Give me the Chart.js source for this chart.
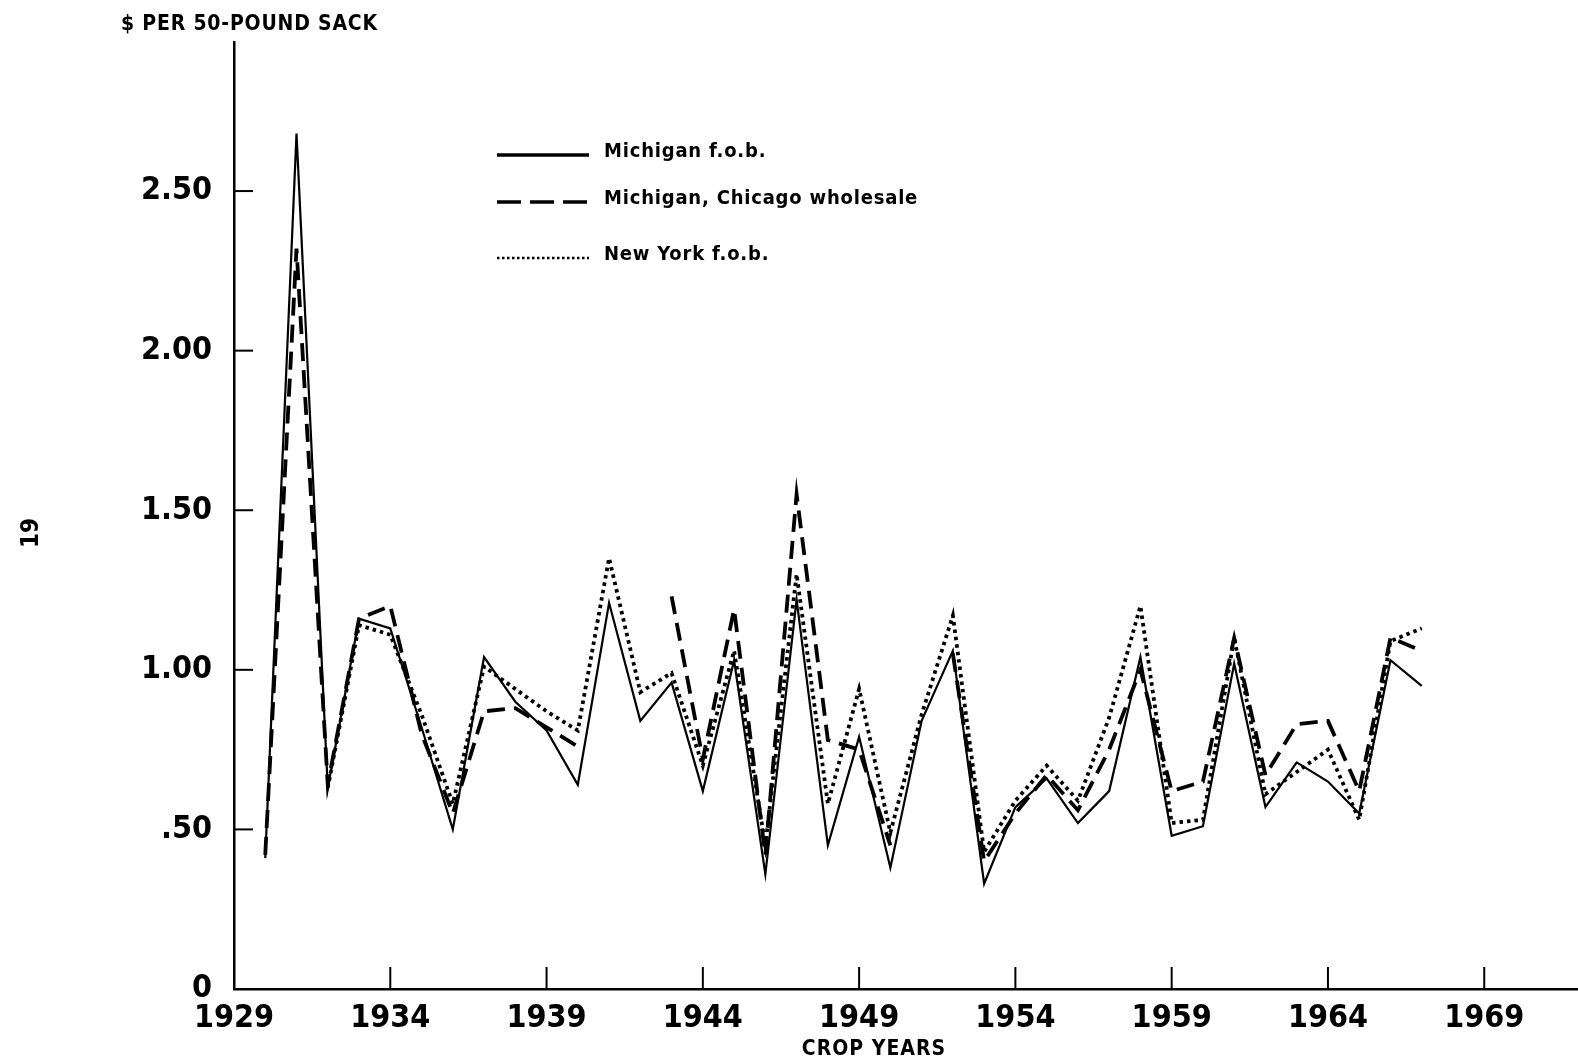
<!DOCTYPE html>
<html>
<head>
<meta charset="utf-8">
<script src="https://cdn.jsdelivr.net/npm/chart.js@4/dist/chart.umd.min.js"></script>
<style>
  html, body { margin: 0; padding: 0; background: #fff; }
  canvas { display: block; }
</style>
</head>
<body>
<canvas id="chart" width="1578" height="1062"></canvas>
<script>
const FONT = '"Liberation Sans Narrow", "DejaVu Sans Condensed", "Roboto", sans-serif';

// crop years 1930-1967
const years = [1930, 1931, 1932, 1933, 1934, 1935, 1936, 1937, 1938, 1939,
               1940, 1941, 1942, 1943, 1944, 1945, 1946, 1947, 1948, 1949,
               1950, 1951, 1952, 1953, 1954, 1955, 1956, 1957, 1958, 1959,
               1960, 1961, 1962, 1963, 1964, 1965, 1966, 1967];

// $ per 50-pound sack
const michiganFob = [0.41, 2.68, 0.63, 1.16, 1.13, 0.82, 0.50, 1.04, 0.90, 0.81,
                     0.64, 1.21, 0.84, 0.96, 0.62, 1.03, 0.36, 1.22, 0.45, 0.79,
                     0.38, 0.84, 1.06, 0.33, 0.57, 0.66, 0.52, 0.62, 1.04, 0.48,
                     0.51, 1.02, 0.57, 0.71, 0.65, 0.55, 1.03, 0.95];
const chicagoWholesale = [0.42, 2.32, 0.64, 1.16, 1.20, 0.80, 0.55, 0.87, 0.88, 0.82,
                          0.76, null, null, 1.23, 0.72, 1.19, 0.42, 1.55, 0.78, 0.75,
                          0.45, null, 1.05, 0.40, 0.55, 0.67, 0.56, 0.75, 1.00, 0.62,
                          0.65, 1.10, 0.67, 0.83, 0.84, 0.62, 1.10, 1.06];
const newYorkFob = [null, null, 0.63, 1.14, 1.11, 0.86, 0.58, 1.01, 0.94, 0.87,
                    0.81, 1.35, 0.93, 0.99, 0.70, 1.06, 0.45, 1.30, 0.58, 0.94,
                    0.49, 0.86, 1.17, 0.43, 0.59, 0.70, 0.59, 0.85, 1.20, 0.52,
                    0.53, 1.10, 0.61, 0.68, 0.75, 0.53, 1.09, 1.13];

const seriesNames = ['Michigan f.o.b.', 'Michigan, Chicago wholesale', 'New York f.o.b.'];

const xTickValues = [1929, 1934, 1939, 1944, 1949, 1954, 1959, 1964, 1969];
const xTickLabels = ['1929', '1934', '1939', '1944', '1949', '1954', '1959', '1964', '1969'];
const yTickValues = [0, 0.5, 1, 1.5, 2, 2.5];
const yTickLabels = ['0', '.50', '1.00', '1.50', '2.00', '2.50'];

function points(arr) {
  return years.map((yr, i) => ({ x: yr, y: arr[i] }));
}

function strokeLine(ctx, x1, y1, x2, y2) {
  ctx.beginPath();
  ctx.moveTo(x1, y1);
  ctx.lineTo(x2, y2);
  ctx.stroke();
}

const overlay = {
  id: 'overlay',
  afterDraw(chart) {
    const ctx = chart.ctx;
    const { left, bottom } = chart.chartArea;
    const xs = chart.scales.x, ys = chart.scales.y;
    ctx.save();
    ctx.strokeStyle = '#000';
    ctx.lineWidth = 2;
    // tick marks point inward
    yTickValues.forEach(v => {
      if (v === 0) return;
      const py = ys.getPixelForValue(v);
      strokeLine(ctx, left, py, left + 19, py);
    });
    xTickValues.forEach(v => {
      if (v === xTickValues[0]) return;
      const px = xs.getPixelForValue(v);
      strokeLine(ctx, px, bottom, px, bottom - 22);
    });

    ctx.fillStyle = '#000';
    ctx.textBaseline = 'middle';

    ctx.font = 'bold 21px ' + FONT;
    ctx.letterSpacing = '0.8px';
    ctx.textAlign = 'left';
    ctx.fillText('$ PER 50-POUND SACK', 121, 25);

    ctx.font = 'bold 21px ' + FONT;
    ctx.letterSpacing = '1px';
    ctx.textAlign = 'center';
    ctx.fillText('CROP YEARS', 874, 1050);

    // legend
    const rows = [155, 202, 258];
    ctx.font = 'bold 20px ' + FONT;
    ctx.letterSpacing = '0.8px';
    ctx.textAlign = 'left';
    chart.data.datasets.forEach((ds, i) => {
      ctx.save();
      ctx.lineWidth = i === 2 ? 2.5 : 3.5;
      ctx.setLineDash(i === 1 ? [24, 9] : (i === 2 ? [2.5, 2.5] : []));
      strokeLine(ctx, 497, rows[i], 589, rows[i]);
      ctx.restore();
      ctx.fillText(seriesNames[i], 604, rows[i] - 3);
    });

    // page number
    ctx.font = 'bold 24px ' + FONT;
    ctx.letterSpacing = '0px';
    ctx.translate(32, 533);
    ctx.rotate(-Math.PI / 2);
    ctx.textAlign = 'center';
    ctx.fillText('19', 0, 0);
    ctx.restore();
  }
};

new Chart(document.getElementById('chart'), {
  type: 'line',
  data: {
    datasets: [
      {
        label: seriesNames[0],
        data: points(michiganFob),
        borderColor: '#000',
        borderWidth: 2.2
      },
      {
        label: seriesNames[1],
        data: points(chicagoWholesale),
        borderColor: '#000',
        borderWidth: 3.8,
        borderDash: [18, 9]
      },
      {
        label: seriesNames[2],
        data: points(newYorkFob),
        borderColor: '#000',
        borderWidth: 3.8,
        borderDash: [3.5, 4]
      }
    ]
  },
  options: {
    responsive: false,
    animation: false,
    devicePixelRatio: 1,
    spanGaps: false,
    elements: {
      point: { radius: 0 },
      line: { tension: 0, borderCapStyle: 'butt', borderJoinStyle: 'miter' }
    },
    layout: { padding: { top: 42, right: 0, bottom: 0, left: 0 } },
    plugins: {
      legend: { display: false },
      tooltip: { enabled: false }
    },
    scales: {
      x: {
        type: 'linear',
        min: 1929,
        max: 1972,
        afterFit(scale) { scale.height = 73; },
        afterBuildTicks(scale) { scale.ticks = xTickValues.map(v => ({ value: v })); },
        grid: { display: true, drawOnChartArea: false, drawTicks: false },
        border: { display: true, color: '#000', width: 2.5 },
        ticks: {
          color: '#000',
          font: { family: FONT, size: 32, weight: 'bold' },
          padding: 10,
          maxRotation: 0,
          autoSkip: false,
          callback: (v, i) => xTickLabels[i]
        }
      },
      y: {
        type: 'linear',
        min: 0,
        max: 2.967,
        afterFit(scale) { scale.width = 234; },
        afterBuildTicks(scale) { scale.ticks = yTickValues.map(v => ({ value: v })); },
        grid: { display: true, drawOnChartArea: false, drawTicks: false },
        border: { display: true, color: '#000', width: 2.5 },
        ticks: {
          color: '#000',
          font: { family: FONT, size: 32, weight: 'bold' },
          padding: 22,
          autoSkip: false,
          callback: (v, i) => yTickLabels[i]
        }
      }
    }
  },
  plugins: [overlay]
});
</script>
</body>
</html>
